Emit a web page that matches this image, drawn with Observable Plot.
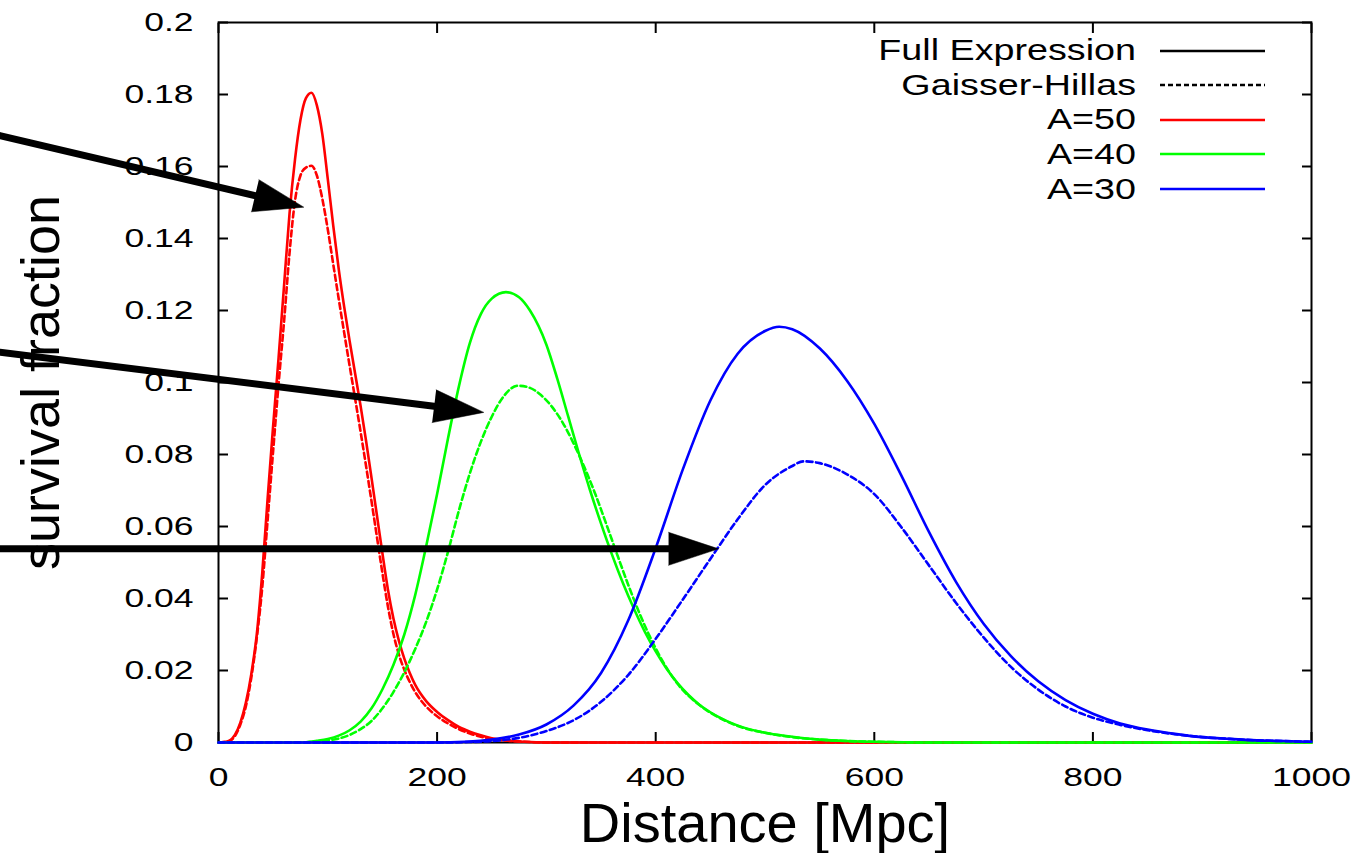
<!DOCTYPE html>
<html>
<head>
<meta charset="utf-8">
<script src="https://cdn.jsdelivr.net/npm/d3@7"></script>
<script src="https://cdn.jsdelivr.net/npm/@observablehq/plot@0.6"></script>
<style>
html, body { margin: 0; padding: 0; background: #fff; }
#wrap { position: relative; width: 1372px; height: 853px; overflow: hidden; font-family: "Liberation Sans", Arial, sans-serif; }
#legend { position: absolute; left: 836px; top: 33.4px; }
.row { display: flex; align-items: center; height: 34.6px; }
.lab { width: 300px; text-align: right; font-size: 29px; color: #000; white-space: nowrap; transform: scaleX(1.3); transform-origin: right center; }
.row svg { margin-left: 24px; display: block; }
</style>
</head>
<body>
<div id="wrap"></div>
<script>
// ---------- data ----------
const xTicks = [0, 200, 400, 600, 800, 1000];
const yTicks = [0, 0.02, 0.04, 0.06, 0.08, 0.1, 0.12, 0.14, 0.16, 0.18, 0.2];
const xTitle = ["Distance [Mpc]"];
const yTitle = ["survival fraction"];
const modelNames = ["Full Expression", "Gaisser-Hillas"];
const massNames = ["A=50", "A=40", "A=30"];
const massColors = ["#ff0000", "#00ff00", "#0000ff"];

// [distance, survival fraction]
const a50Full = [[0,0],[5,0.0001],[10,0.0005],[15,0.0021],[20,0.0055],[25,0.011],[30,0.019],[35,0.030],[40,0.047],[45,0.068],[50,0.088],[55,0.107],[60,0.127],[65,0.147],[70,0.162],[75,0.173],[80,0.179],[85,0.1805],[90,0.177],[95,0.169],[100,0.1565],[105,0.1435],[110,0.1315],[115,0.121],[120,0.1115],[125,0.1025],[130,0.0935],[135,0.0838],[140,0.0735],[145,0.063],[150,0.0525],[155,0.0425],[160,0.0345],[165,0.0283],[170,0.0233],[175,0.0193],[180,0.016],[190,0.0115],[200,0.0085],[210,0.0062],[220,0.0043],[230,0.0030],[240,0.0020],[250,0.0012],[260,0.0007],[280,0.0002],[300,0],[1000,0]];
const a50GH = [[0,0],[5,0.0001],[10,0.0004],[15,0.0018],[20,0.0050],[25,0.010],[30,0.018],[35,0.029],[40,0.043],[45,0.062],[50,0.081],[55,0.0997],[60,0.117],[65,0.136],[70,0.1505],[75,0.1575],[80,0.1597],[85,0.1602],[90,0.1575],[95,0.151],[100,0.1425],[105,0.1328],[110,0.1232],[115,0.1138],[120,0.1046],[125,0.0955],[130,0.0863],[135,0.0768],[140,0.0670],[145,0.0570],[150,0.0470],[155,0.0378],[160,0.0302],[165,0.0245],[170,0.0202],[175,0.0168],[180,0.0140],[190,0.0100],[200,0.0073],[210,0.0053],[220,0.0037],[230,0.0025],[240,0.0016],[250,0.0010],[260,0.0006],[280,0.0002],[300,0],[1000,0]];
const a40Full = [[0,0],[75,0],[90,0.0005],[100,0.0010],[110,0.0019],[120,0.0034],[130,0.0058],[140,0.0095],[150,0.0148],[160,0.0215],[170,0.0300],[180,0.0410],[190,0.0545],[200,0.0690],[210,0.0845],[220,0.0990],[230,0.1110],[240,0.1190],[250,0.1233],[263,0.1251],[275,0.1237],[285,0.1200],[300,0.1105],[310,0.1010],[320,0.0905],[330,0.0800],[340,0.0700],[350,0.0608],[360,0.0522],[370,0.0443],[380,0.0372],[390,0.0308],[400,0.0253],[410,0.0205],[420,0.0165],[430,0.0132],[440,0.0105],[450,0.0084],[460,0.0067],[470,0.0053],[480,0.0042],[500,0.0027],[525,0.0016],[550,0.0008],[575,0.0004],[600,0.0002],[650,0],[1000,0]];
const a40GH = [[0,0],[75,0],[90,0.0003],[100,0.0006],[110,0.0011],[120,0.0021],[130,0.0037],[140,0.0060],[150,0.0095],[160,0.0140],[170,0.0195],[180,0.0260],[190,0.0335],[200,0.0425],[210,0.0530],[220,0.0645],[230,0.0748],[240,0.0835],[250,0.0905],[260,0.0958],[274,0.0991],[285,0.0985],[295,0.0965],[305,0.0933],[315,0.0888],[325,0.0830],[335,0.0763],[345,0.0688],[355,0.0605],[365,0.0520],[375,0.0437],[385,0.0360],[395,0.0292],[405,0.0233],[420,0.0163],[440,0.0104],[460,0.0066],[480,0.0041],[500,0.0027],[525,0.0015],[550,0.0008],[575,0.0004],[600,0.0002],[650,0],[1000,0]];
const a30Full = [[0,0],[200,0],[225,0.0002],[250,0.0008],[275,0.0022],[300,0.0050],[325,0.0103],[350,0.0193],[375,0.0340],[400,0.0540],[425,0.0760],[450,0.0950],[475,0.1080],[500,0.1143],[513,0.1155],[525,0.1148],[550,0.1095],[575,0.1005],[600,0.0885],[625,0.0740],[650,0.0585],[675,0.0445],[700,0.0330],[725,0.0240],[750,0.0170],[775,0.0118],[800,0.0080],[825,0.0053],[850,0.0036],[875,0.0024],[900,0.0015],[925,0.0010],[950,0.0006],[975,0.0004],[1000,0.0002]];
const a30GH = [[0,0],[200,0],[225,0.0001],[250,0.0004],[275,0.0013],[300,0.0032],[325,0.0062],[350,0.0113],[375,0.0188],[400,0.0288],[425,0.0398],[450,0.0510],[475,0.0620],[500,0.0715],[525,0.0768],[535,0.0781],[550,0.0776],[575,0.0745],[600,0.0690],[625,0.0597],[650,0.0492],[675,0.0387],[700,0.0292],[725,0.0210],[750,0.0147],[775,0.0100],[800,0.0069],[825,0.0049],[850,0.0034],[875,0.0023],[900,0.0015],[925,0.0010],[950,0.0006],[975,0.0004],[1000,0.0002]];

// annotation arrows: start and tip, in data units
const arrowStart = [[-200, 0.1686], [-200, 0.1084], [-200, 0.0538]];
const arrowTip = [[78, 0.1487], [242.7, 0.0917], [457.5, 0.0538]];

// ---------- build ----------
const W = 1372, H = 853, mL = 218, mR = 61, mT = 22, mB = 111;

const series = [
  {mass: 0, model: 0, pts: a50Full},
  {mass: 0, model: 1, pts: a50GH},
  {mass: 1, model: 0, pts: a40Full},
  {mass: 1, model: 1, pts: a40GH},
  {mass: 2, model: 0, pts: a30Full},
  {mass: 2, model: 1, pts: a30GH}
];
const dashGH = "6,3.5";

const arrows = arrowStart.map((s, i) => ({x1: s[0], y1: s[1], x2: arrowTip[i][0], y2: arrowTip[i][1]}));
const sx = Plot.scale({x: {domain: [0, 1000], range: [mL, W - mR]}});
const sy = Plot.scale({y: {domain: [0, 0.2], range: [H - mB, mT]}});
const angle = d => Math.atan2(sx.apply(d.x2) - sx.apply(d.x1), -(sy.apply(d.y2) - sy.apply(d.y1))) * 180 / Math.PI;

const marks = [
  Plot.frame({stroke: "black", strokeWidth: 2}),
  Plot.axisX(xTicks, {anchor: "bottom", tickSize: -10, tickPadding: 36, strokeWidth: 2, tickFormat: d => String(d), label: null}),
  Plot.axisX(xTicks, {anchor: "top", tickSize: -10, strokeWidth: 2, tickFormat: () => "", label: null}),
  Plot.axisY(yTicks, {anchor: "left", tickSize: -10, tickPadding: 35, strokeWidth: 2, tickFormat: d => String(d), label: null}),
  Plot.axisY(yTicks, {anchor: "right", tickSize: -10, strokeWidth: 2, tickFormat: () => "", label: null})
];
for (const s of series) {
  marks.push(Plot.line(s.pts, {
    x: d => d[0], y: d => d[1],
    stroke: massColors[s.mass], strokeWidth: 2.6,
    strokeDasharray: s.model === 1 ? dashGH : null,
    curve: "monotone-x"
  }));
}
marks.push(
  Plot.arrow(arrows, {x1: "x1", y1: "y1", x2: "x2", y2: "y2", stroke: "black", strokeWidth: 7, headLength: 0, insetEnd: 44}),
  Plot.vector(arrows, {x: "x2", y: "y2", rotate: angle, length: 50, r: 16.5, shape: "spike", anchor: "end", fill: "black", stroke: "black", strokeWidth: 0.5}),
  Plot.text(xTitle, {frameAnchor: "bottom", lineAnchor: "bottom", dy: 99, fontSize: 56, text: d => d, fill: "black"}),
  Plot.text(yTitle, {frameAnchor: "left", rotate: -90, textAnchor: "middle", lineAnchor: "bottom", dx: -160, fontSize: 54, text: d => d, fill: "black"})
);

const svg = Plot.plot({
  width: W, height: H,
  marginLeft: mL, marginRight: mR, marginTop: mT, marginBottom: mB,
  x: {domain: [0, 1000], label: null},
  y: {domain: [0, 0.2], label: null},
  style: {fontFamily: "Liberation Sans, Arial, sans-serif", fontSize: "25px", color: "black", background: "white", overflow: "visible"},
  marks
});

// stretch tick labels horizontally like the reference
d3.select(svg).selectAll('[aria-label$="tick label"] text').each(function () {
  const t = this.getAttribute("transform") || "";
  this.setAttribute("transform", t + " scale(1.42,1)");
});

const wrap = document.getElementById("wrap");
wrap.appendChild(svg);

// legend
const legendLabels = [...modelNames, ...massNames];
const legendColors = ["#000000", "#000000", ...massColors];
const legendDash = [null, "5,3", null, null, null];
const leg = document.createElement("div");
leg.id = "legend";
legendLabels.forEach((lab, i) => {
  const row = document.createElement("div");
  row.className = "row";
  const sp = document.createElement("span");
  sp.className = "lab";
  sp.textContent = lab;
  row.appendChild(sp);
  const ns = "http://www.w3.org/2000/svg";
  const s = document.createElementNS(ns, "svg");
  s.setAttribute("width", 105); s.setAttribute("height", 6);
  const ln = document.createElementNS(ns, "line");
  ln.setAttribute("x1", 0); ln.setAttribute("x2", 105);
  ln.setAttribute("y1", 3); ln.setAttribute("y2", 3);
  ln.setAttribute("stroke", legendColors[i]);
  ln.setAttribute("stroke-width", 2.5);
  if (legendDash[i]) ln.setAttribute("stroke-dasharray", legendDash[i]);
  s.appendChild(ln);
  row.appendChild(s);
  leg.appendChild(row);
});
wrap.appendChild(leg);
</script>
</body>
</html>
